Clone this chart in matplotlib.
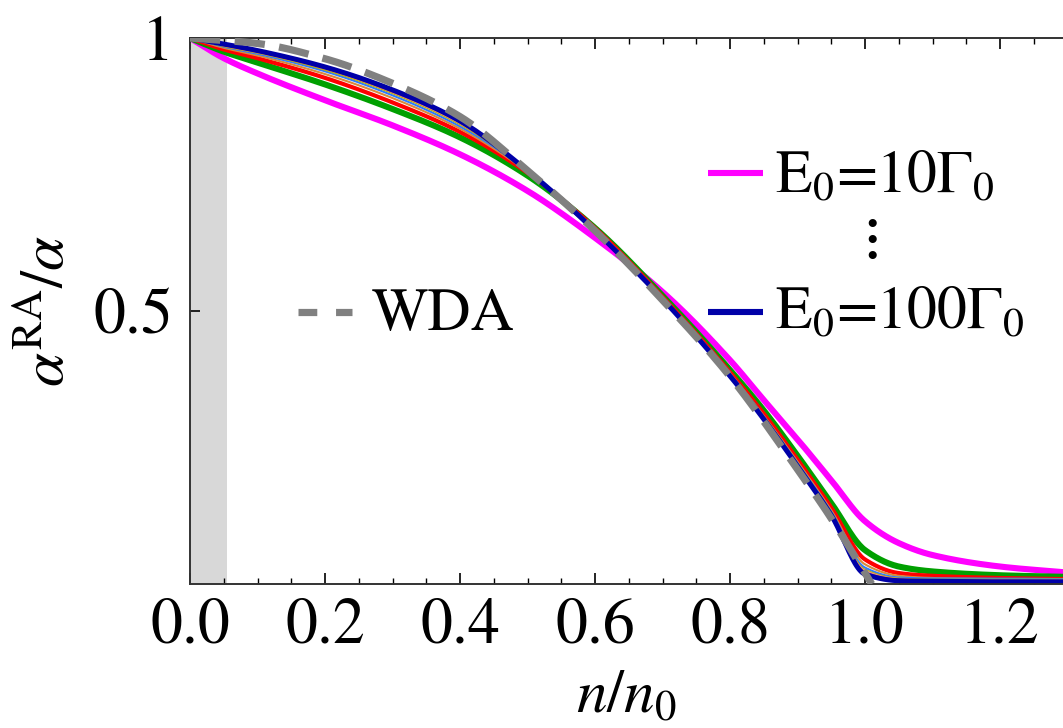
# alpha^RA / alpha versus density, for several E0, with the WDA curve

import numpy as np
import matplotlib
matplotlib.use('Agg')
import matplotlib.pyplot as plt

plt.rcParams['font.family'] = ['STIXGeneral', 'DejaVu Sans']
plt.rcParams['mathtext.fontset'] = 'stix'

# density grid n/n0 shared by the E0 curves
n_ratio = [0, .05, .1, .2, .3, .4, .5, .6, .7, .8, .85, .9, .95, 1.0, 1.05, 1.1, 1.2, 1.3]

# one curve per E0 (in units of Gamma0)
E0_values = [10, 20, 30, 40, 50, 60, 70, 80, 90, 100]
alpha_ratio = [
    [1, .963, .935, .886, .840, .787, .720, .634, .535, .410, .337, .265, .190, .115, .075, .053, .032, .021],
    [1, .975, .955, .915, .870, .818, .748, .652, .528, .392, .318, .235, .148, .062, .032, .023, .016, .013],
    [1, .979, .963, .927, .882, .828, .753, .652, .526, .388, .312, .228, .140, .045, .020, .015, .011, .009],
    [1, .982, .968, .934, .890, .834, .755, .651, .525, .386, .308, .224, .135, .036, .015, .011, .009, .008],
    [1, .984, .971, .939, .895, .838, .757, .650, .524, .384, .306, .221, .132, .030, .012, .010, .010, .009],
    [1, .985, .973, .942, .899, .842, .757, .649, .523, .383, .305, .219, .130, .026, .010, .008, .008, .008],
    [1, .986, .974, .944, .901, .844, .757, .648, .523, .382, .304, .218, .129, .024, .009, .007, .007, .007],
    [1, .987, .975, .945, .902, .846, .757, .648, .522, .382, .303, .217, .128, .021, .008, .006, .006, .006],
    [1, .988, .976, .946, .904, .847, .757, .647, .522, .381, .303, .217, .127, .019, .007, .005, .005, .005],
    [1, .989, .977, .947, .905, .848, .757, .647, .522, .381, .302, .216, .126, .018, .006, .005, .004, .004],
]
curve_colors = ['#ff00ff', '#00a000', '#ff0000', '#d88a3a', '#2a7bff',
                '#b8b000', '#f08a8a', '#9a1a9a', '#3a50c8', '#0000a8']
curve_widths = [4.4, 4.4, 3.0, 1.5, 1.5, 1.5, 1.5, 1.5, 1.5, 3.6]

# weak-disorder approximation
n_wda = [0, .1, .2, .3, .4, .5, .6, .7, .8, .9, .95, 1.0, 1.01]
alpha_wda = [1, .99, .962, .917, .856, .757, .647, .52, .38, .21, .12, .02, 0.0]


def pchip(x, y, xx):
    # monotone cubic interpolation (Fritsch-Carlson)
    x = np.asarray(x, float)
    y = np.asarray(y, float)
    h = np.diff(x)
    d = np.diff(y) / h
    m = np.zeros_like(y)
    for k in range(1, len(y) - 1):
        if d[k - 1] * d[k] > 0:
            w1 = 2 * h[k] + h[k - 1]
            w2 = h[k] + 2 * h[k - 1]
            m[k] = (w1 + w2) / (w1 / d[k - 1] + w2 / d[k])
    m[0] = d[0]
    m[-1] = d[-1]
    i = np.clip(np.searchsorted(x, xx) - 1, 0, len(h) - 1)
    t = (xx - x[i]) / h[i]
    h00 = 2 * t**3 - 3 * t**2 + 1
    h10 = t**3 - 2 * t**2 + t
    h01 = -2 * t**3 + 3 * t**2
    h11 = t**3 - t**2
    return h00 * y[i] + h10 * h[i] * m[i] + h01 * y[i + 1] + h11 * h[i] * m[i + 1]


fig = plt.figure(figsize=(10.63, 7.28), dpi=100)
ax = fig.add_axes([190 / 1063, 144 / 728, 873 / 1063, 546 / 728])

# excluded low-density strip
ax.axvspan(0, 0.055, color='#d8d8d8', lw=0, zorder=0)

xx = np.linspace(0, 1.3, 600)
for yv, c, lw in zip(alpha_ratio, curve_colors, curve_widths):
    ax.plot(xx, pchip(n_ratio, yv, xx), color=c, lw=lw, solid_capstyle='butt', zorder=2)

xw = np.linspace(0, 1.01, 400)
ax.plot(xw, pchip(n_wda, alpha_wda, xw), color='#808080', lw=5.2,
        dashes=(4.2, 2.0), zorder=3)

ax.set_xlim(0, 873 / 675)
ax.set_ylim(0, 1)

ax.set_xticks(np.arange(0, 1.3, 0.2))
ax.set_xticks(np.arange(0, 1.3, 0.05), minor=True)
ax.set_xticklabels(['%.1f' % v for v in np.arange(0, 1.3, 0.2)])
ax.set_yticks([0.5, 1.0])
ax.set_yticklabels(['0.5', '1'])
ax.tick_params(axis='x', which='major', direction='in', length=8, width=1.2,
               top=True, labelsize=46, pad=10)
ax.tick_params(axis='x', which='minor', direction='in', length=4.5, width=1.0, top=True)
ax.tick_params(axis='y', which='major', direction='in', length=7, width=1.2,
               labelsize=46, pad=12)
ax.spines['right'].set_visible(False)
for s in ['left', 'bottom', 'top']:
    ax.spines[s].set_linewidth(1.4)
    ax.spines[s].set_color('#333333')

# axis titles
fig.text(626 / 1063, 1 - 712 / 728, r'$n/n_0$', fontsize=44, ha='center', va='baseline')
ax.set_ylabel(r'$\alpha^{\rm RA}/\alpha$', fontsize=44, labelpad=12)

# legend drawn by hand
tr = ax.transAxes
ax.plot([0.593, 0.656], [0.753, 0.753], color='#ff00ff', lw=4.4, transform=tr,
        solid_capstyle='butt', clip_on=False)
ax.text(0.670, 0.718, 'E$_0$=10\u0393$_0$', transform=tr, fontsize=43, va='baseline')
ax.text(0.781, 0.63, '\u22ee', transform=tr, fontsize=34, ha='center', va='center', fontweight='bold')
ax.plot([0.593, 0.656], [0.498, 0.498], color='#0000a8', lw=4.4, transform=tr,
        solid_capstyle='butt', clip_on=False)
ax.text(0.670, 0.469, 'E$_0$=100\u0393$_0$', transform=tr, fontsize=43, va='baseline')

ax.plot([0.124, 0.186], [0.498, 0.498], color='#808080', lw=5.2, dashes=(2.6, 2.6),
        transform=tr, clip_on=False)
ax.text(0.2085, 0.465, 'WDA', transform=tr, fontsize=43, va='baseline')

fig.savefig('out.png', dpi=100)
